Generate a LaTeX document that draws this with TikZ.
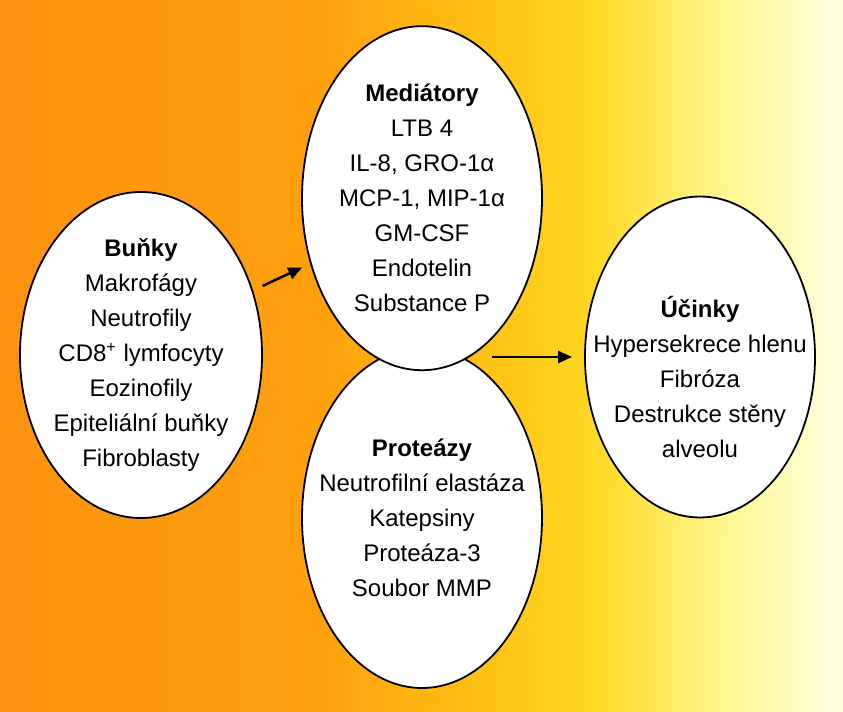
\documentclass[tikz,border=0pt]{standalone}
\usepackage{fontspec}
\setmainfont{Liberation Sans}
\usepackage{xcolor}
\usepackage{tikz}
\usetikzlibrary{arrows.meta,shapes,positioning}
\definecolor{bgorange}{RGB}{252,146,16}
\definecolor{bgorangetwo}{RGB}{254,160,14}
\definecolor{bgamber}{RGB}{255,186,18}
\definecolor{bgyellow}{RGB}{255,216,32}
\definecolor{bgpale}{RGB}{255,247,140}
\definecolor{bgcream}{RGB}{255,255,228}
\pgfdeclarehorizontalshading{bg-fade}{100bp}{%
  color(0bp)=(bgorange); color(25bp)=(bgorange); color(44bp)=(bgorangetwo);
  color(51.7bp)=(bgamber); color(60bp)=(bgyellow); color(67.7bp)=(bgpale);
  color(75bp)=(bgcream); color(100bp)=(bgcream)}
\tikzset{
  every picture/.style = {
    x = 0.5pt,
    y = -0.5pt,
    >= {Triangle[length=7pt,width=6pt]},
  }
  ,
  oval/.style = {
    ellipse,
    draw,
    fill = white,
    line width = 0.9pt,
    inner sep = 0pt
  }
  , % text inside the ovals
  oval-text/.style = {
    align = center,
    font = \fontsize{12}{17.5}\selectfont
  }
  , % arrows between the ovals
  link/.style = {
    ->,
    line width = 1.25pt
  }
}

\begin{document}
\begin{tikzpicture}
    \shade [shading = bg-fade] (0,0) rectangle (843,712);
    \node [oval, minimum width = 121pt, minimum height = 163pt] (bunky) at (141,355) {};
    \node [oval, minimum width = 120pt, minimum height = 170pt] (proteazy) at (422,518) {};
    \node [oval, minimum width = 120pt, minimum height = 172pt, above = -12pt of proteazy] (mediatory) {};
    \node [oval, minimum width = 115pt, minimum height = 160.5pt] (ucinky) at (700,357) {};
    % texts
    \node [oval-text] (bunky-t) at (bunky) {\textbf{Buňky}\\Makrofágy\\Neutrofily\\CD8\textsuperscript{+} lymfocyty\\Eozinofily\\Epiteliální buňky\\Fibroblasty};
    \node [oval-text] (mediatory-t) at (mediatory) {\textbf{Mediátory}\\LTB 4\\IL-8, GRO-1α\\MCP-1, MIP-1α\\GM-CSF\\Endotelin\\Substance P};
    \node [oval-text] (proteazy-t) at (proteazy) {\textbf{Proteázy}\\Neutrofilní elastáza\\Katepsiny\\Proteáza-3\\Soubor MMP};
    \node [oval-text] (ucinky-t) at ([yshift=-10pt]ucinky.center) {\textbf{Účinky}\\Hypersekrece hlenu\\Fibróza\\Destrukce stěny\\alveolu};
    \draw [link] ([xshift=5.5pt]bunky.32) -- ([xshift=-4.5pt]mediatory.212);
    \draw [link] ([xshift=35pt]mediatory.south |- ucinky.west) -- ([xshift=-6pt]ucinky.west);
\end{tikzpicture}
\end{document}
